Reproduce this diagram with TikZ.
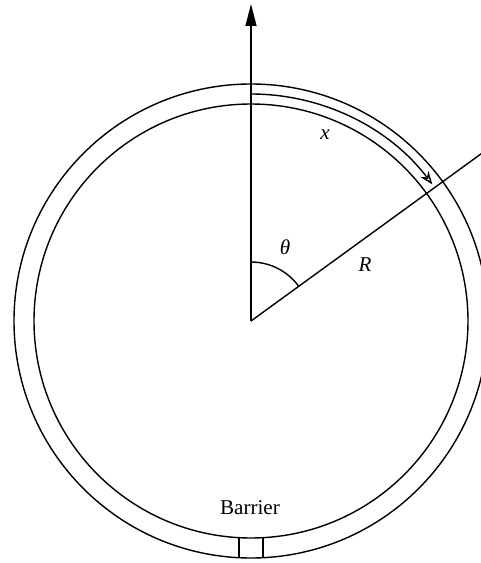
\documentclass[tikz,border=0pt]{standalone}
\usepackage{fontspec}
\setmainfont{Liberation Serif}
\usetikzlibrary{arrows.meta}

\begin{document}
\begin{tikzpicture}[scale=0.02, line width=0.8pt,
  every node/.style={font=\fontsize{12}{14}\selectfont},
  lbl/.style={font=\fontsize{12}{14}\selectfont\itshape}]
% frame of the picture (the ring runs off on the right)
\useasboundingbox (-251,-242) rectangle (230,321);
\clip (-251,-242) rectangle (230,321);

\coordinate (O) at (0,0);

% Ring: outer and inner walls
\draw (O) circle[radius=237];
\draw (O) circle[radius=217];

% Barrier across the ring
\draw (-12,-216.6) -- (-12,-236.7);
\draw (12,-216.6) -- (12,-236.7);
\node (barrier) at (-1,-187) {Barrier};

% Vertical axis
\draw[-{Triangle[length=4.4mm,width=2.2mm]}] (O) -- (0,317) coordinate (top);

% Radius line
\draw (O) -- (36:300) coordinate (rend);
\node[lbl] (R) at (114,56) {R};

% Angle theta
\draw (90:59) arc[start angle=90, end angle=36, radius=59];
\node[lbl] (theta) at (34,74) {θ};

% Distance x along the ring
\draw[-{Stealth[length=2.6mm,width=2mm,open]}] (90:227) arc[start angle=90, end angle=37, radius=227];
\node[lbl] (x) at (74,186) {x};

\end{tikzpicture}
\end{document}
